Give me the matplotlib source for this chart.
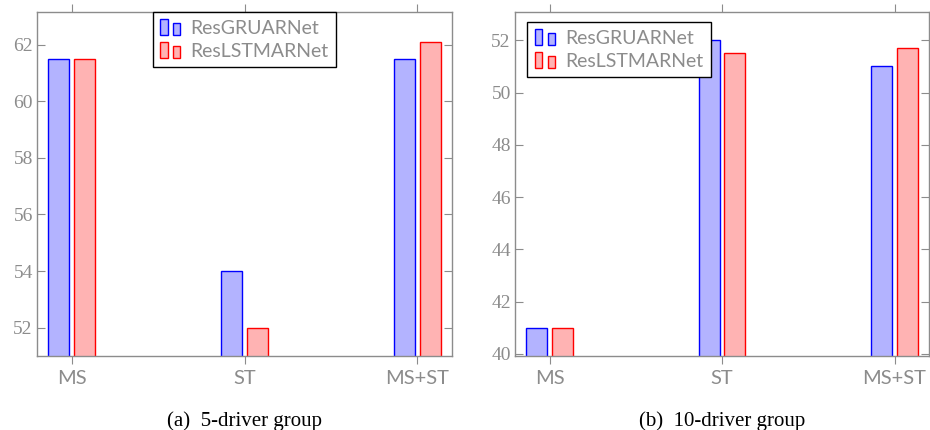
import matplotlib.pyplot as plt
from matplotlib.legend_handler import HandlerBase
from matplotlib.patches import Rectangle
import numpy as np

categories = ['MS', 'ST', 'MS+ST']
models = ['ResGRUARNet', 'ResLSTMARNet']

# 5-driver group
gru_5 = [61.5, 54.0, 61.5]
lstm_5 = [61.5, 52.0, 62.1]
# 10-driver group
gru_10 = [41.0, 52.0, 51.0]
lstm_10 = [41.0, 51.5, 51.7]

yticks_5 = [52, 54, 56, 58, 60, 62]
yticks_10 = [40, 42, 44, 46, 48, 50, 52]

captions = ['(a)  5-driver group', '(b)  10-driver group']

grey = '#8c8c8c'
blue_fill, red_fill = '#b3b3ff', '#ffb3b3'


class TwoBars(HandlerBase):
    # pgfplots style ybar legend image: two small bars
    def create_artists(self, legend, orig, xd, yd, width, height, fontsize, trans):
        fc = orig.get_facecolor()
        ec = orig.get_edgecolor()
        w = width * 0.35
        y0 = -yd - 0.1 * height
        r1 = Rectangle((-xd, y0), w, height * 1.15, fc=fc, ec=ec, lw=1, transform=trans)
        r2 = Rectangle((-xd + width * 0.63, y0), w, height * 0.9, fc=fc, ec=ec, lw=1, transform=trans)
        return [r1, r2]


fig = plt.figure(figsize=(9.3, 4.3), dpi=100)
ax1 = fig.add_axes([37/930, 1 - 356/430, 415/930, 344/430])
ax2 = fig.add_axes([515/930, 1 - 356/430, 414/930, 344/430])

x = np.arange(len(categories))
bw = 0.123
off = 0.074

panels = [(ax1, gru_5, lstm_5, (51, 63.15), yticks_5),
          (ax2, gru_10, lstm_10, (39.92, 53.08), yticks_10)]

for i, (ax, g, l, ylim, yt) in enumerate(panels):
    ax.bar(x - off, g, bw, bottom=0, color=blue_fill, edgecolor='blue', lw=1, label=models[0])
    ax.bar(x + off, l, bw, bottom=0, color=red_fill, edgecolor='red', lw=1, label=models[1])
    ax.set_xlim(-0.2, 2.2)
    ax.set_ylim(*ylim)
    ax.set_xticks(x)
    ax.set_xticklabels(categories, fontfamily='Lato', fontsize=14.5, color=grey)
    ax.set_yticks(yt)
    ax.set_yticklabels([str(v) for v in yt], fontfamily='Liberation Serif', fontsize=14, color=grey)
    ax.tick_params(axis='x', direction='out', top=True, bottom=True, length=6, color=grey, pad=4)
    ax.tick_params(axis='y', direction='in', left=True, right=True, length=6, color=grey, pad=3)
    for s in ax.spines.values():
        s.set_color(grey)
        s.set_linewidth(1)
    ax.text(0.5, -0.19, captions[i], transform=ax.transAxes, ha='center', va='center',
            fontfamily='Liberation Serif', fontsize=15)

leg_kw = dict(handler_map={Rectangle: TwoBars()}, fancybox=False, edgecolor='black',
              framealpha=1, prop={'family': 'Lato', 'size': 14}, handlelength=1.05,
              handletextpad=0.5, borderpad=0.4, labelspacing=0.3, borderaxespad=0)
h1, lab1 = ax1.get_legend_handles_labels()
lg1 = ax1.legend([h1[0].patches[0], h1[1].patches[0]], lab1, loc='upper center',
                 bbox_to_anchor=(0.5, 1.0), **leg_kw)
h2, lab2 = ax2.get_legend_handles_labels()
lg2 = ax2.legend([h2[0].patches[0], h2[1].patches[0]], lab2, loc='upper left',
                 bbox_to_anchor=(0.029, 0.971), **leg_kw)
for lg in (lg1, lg2):
    lg.get_frame().set_linewidth(1)
    for t in lg.get_texts():
        t.set_color(grey)

plt.savefig('out.png', dpi=100)
